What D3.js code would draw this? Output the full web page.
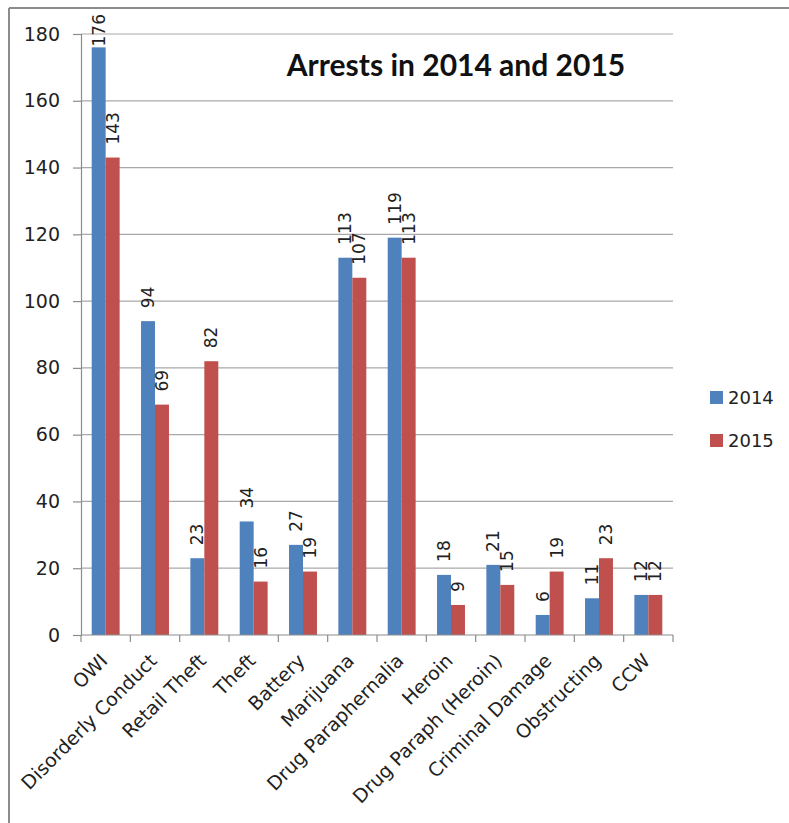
<!DOCTYPE html>
<html><head><meta charset="utf-8">
<script src="https://cdn.jsdelivr.net/npm/d3@7/dist/d3.min.js"></script>
<style>body{margin:0;background:#fff;} svg{display:block;}</style>
</head><body>
<svg id="chart" width="789" height="823"></svg>
<script>
const categories = ["OWI","Disorderly Conduct","Retail Theft","Theft","Battery","Marijuana","Drug Paraphernalia","Heroin","Drug Paraph (Heroin)","Criminal Damage","Obstructing","CCW"];
const series = ["2014","2015"];
const values2014 = [176,94,23,34,27,113,119,18,21,6,11,12];
const values2015 = [143,69,82,16,19,107,113,9,15,19,23,12];
const yTicks = [0,20,40,60,80,100,120,140,160,180];
const colors = ["#4F81BD","#C0504D"];
const titleText = "Arrests in 2014 and 2015";

(function(){
const svg = d3.select("#chart");
const pLeft = 81, pRight = 673, pTop = 34, pBottom = 635;
const font = "DejaVu Sans";

// frame
svg.append("line").attr("x1",9).attr("x2",789).attr("y1",8).attr("y2",8).attr("stroke","#8c8c8c").attr("stroke-width",2);
svg.append("line").attr("x1",9).attr("x2",9).attr("y1",8).attr("y2",823).attr("stroke","#8c8c8c").attr("stroke-width",2);

const x0 = d3.scaleBand().domain(categories).range([pLeft,pRight]).padding(0);
const x1 = d3.scaleBand().domain(series).range([10.7, x0.bandwidth()-10.7]).padding(0);
const y = d3.scaleLinear().domain([0,180]).range([pBottom, pTop]);

// gridlines
svg.append("g").selectAll("line").data(yTicks.filter(d=>d>0)).join("line")
  .attr("x1",pLeft).attr("x2",pRight).attr("y1",d=>y(d)).attr("y2",d=>y(d))
  .attr("stroke","#a9a9a9").attr("stroke-width",1.2);

// y axis
const yAxis = svg.append("g").attr("transform",`translate(${pLeft},0)`)
  .call(d3.axisLeft(y).tickValues(yTicks).tickSize(8).tickPadding(13));
yAxis.select(".domain").attr("stroke","#8c8c8c").attr("stroke-width",1.2);
yAxis.selectAll(".tick line").attr("stroke","#8c8c8c").attr("stroke-width",1.2);
yAxis.selectAll("text").attr("font-family",font).attr("font-size","19px").attr("fill","#222");

// bars
const data = categories.map((c,i)=>({cat:c, vals:[values2014[i], values2015[i]]}));
const groups = svg.append("g").selectAll("g").data(data).join("g")
  .attr("transform",d=>`translate(${x0(d.cat)},0)`);
groups.selectAll("rect").data(d=>d.vals.map((v,j)=>({s:series[j],v,j}))).join("rect")
  .attr("x",d=>x1(d.s)).attr("width",x1.bandwidth())
  .attr("y",d=>y(d.v)).attr("height",d=>y(0)-y(d.v))
  .attr("fill",d=>colors[d.j]);

// x axis
const xAxis = svg.append("g").attr("transform",`translate(0,${pBottom})`);
xAxis.append("line").attr("x1",pLeft).attr("x2",pRight).attr("stroke","#8c8c8c").attr("stroke-width",1.2);
const tickXs = categories.map(c=>x0(c)).concat([pRight]);
xAxis.selectAll("line.t").data(tickXs).join("line").attr("class","t")
  .attr("x1",d=>d).attr("x2",d=>d).attr("y1",0).attr("y2",7).attr("stroke","#8c8c8c").attr("stroke-width",1.2);
xAxis.selectAll("text").data(categories).join("text")
  .attr("transform",d=>`translate(${x0(d)+x0.bandwidth()/2+3},${27}) rotate(-45)`)
  .attr("text-anchor","end").attr("font-family",font).attr("font-size","19px").attr("fill","#222")
  .text(d=>d);

// data labels
const labelG = svg.append("g");
data.forEach(d=>{
  d.vals.forEach((v,j)=>{
    const cx = x0(d.cat)+x1(series[j])+x1.bandwidth()/2;
    const t = labelG.append("text").attr("font-family",font).attr("font-size","17px").attr("fill","#222")
      .attr("text-anchor","start").text(v);
    const len = t.node().getComputedTextLength();
    const yb = Math.max(y(v)-13, 14+len);
    t.attr("transform",`translate(${cx+6},${yb}) rotate(-90)`);
  });
});

// title
svg.append("text").attr("x",456).attr("y",76).attr("text-anchor","middle")
  .attr("font-family","Lato").attr("font-weight","bold").attr("font-size","30px").attr("fill","#111")
  .text(titleText);

// legend
const lg = svg.append("g");
series.forEach((s,i)=>{
  const yy = 391 + i*43;
  lg.append("rect").attr("x",710).attr("y",yy).attr("width",13).attr("height",13).attr("fill",colors[i]);
  lg.append("text").attr("x",728).attr("y",yy+13).attr("font-family",font).attr("font-size","18px").attr("fill","#222").text(s);
});
})();
</script>
</body></html>
